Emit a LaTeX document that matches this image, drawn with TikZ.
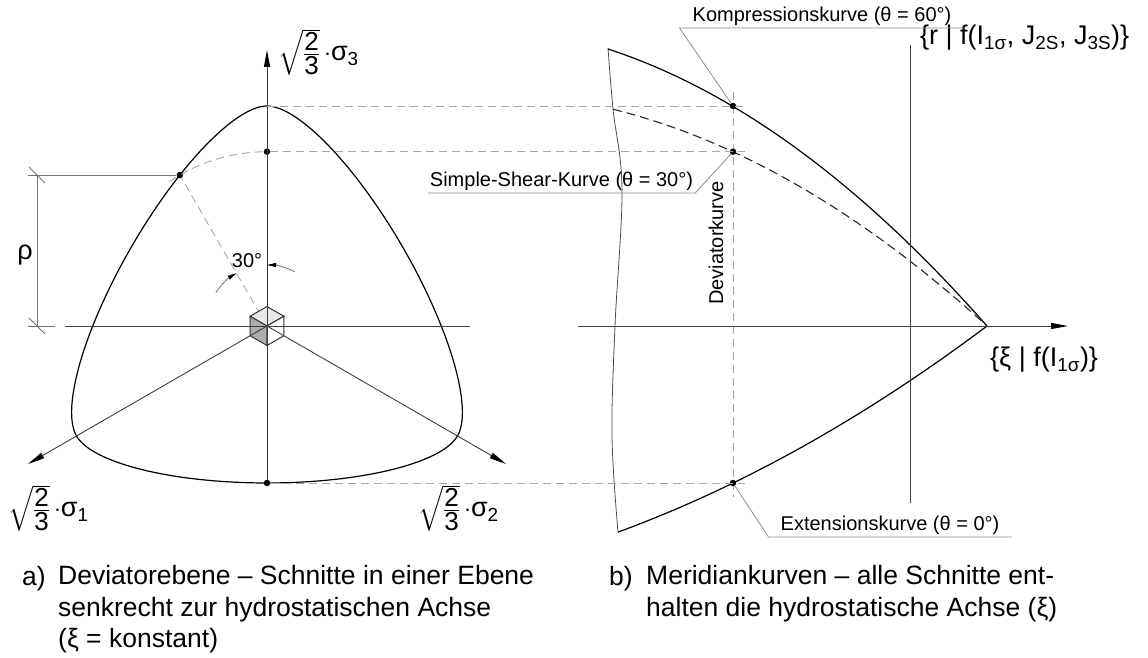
\documentclass[tikz,border=0pt]{standalone}
\usepackage{amsmath}
\usepackage{fontspec}
\setmainfont{Liberation Sans}
\usetikzlibrary{arrows.meta}

\newcommand{\rootfrac}{{\fontsize{23}{27}\selectfont
  $\sqrt{\frac{\mbox{\fontsize{26}{30}\selectfont 2}}{\mbox{\fontsize{26}{30}\selectfont 3}}}\,\cdot$}}

\tikzset{
  axis/.style={draw=black!75,line width=0.9pt},
  arrowaxis/.style={axis,-{Triangle[length=17pt,width=6pt,color=black]}},
  curve/.style={draw=black,line width=1.2pt},
  meridss/.style={draw=black!85,line width=1.1pt,dash pattern=on 9pt off 5pt},
  helper/.style={draw=black!35,line width=0.9pt,dash pattern=on 8pt off 5pt},
  leader/.style={draw=black!45,line width=0.8pt},
  dimline/.style={draw=black!55,line width=0.8pt},
  thinline/.style={draw=black!70,line width=0.8pt},
  cubeline/.style={draw=black!80,line width=1pt},
  dot/.style={circle,fill=black,inner sep=0pt,minimum size=6.5pt},
  lbl/.style={font=\fontsize{20}{24}\selectfont,inner sep=2pt},
  axlbl/.style={font=\fontsize{27}{32}\selectfont,inner sep=0pt},
  caption/.style={font=\fontsize{26.5}{31.5}\selectfont,inner sep=0pt,align=left},
}

\begin{document}
\begin{tikzpicture}[x=1pt,y=1pt,
  declare function={lode(\p)=acos(sin(3*\p))/3;
    wwr(\t)=(0.9816*cos(\t)+0.4272*sqrt(1.9632*cos(\t)*cos(\t)-0.3083))
            /(1.9632*cos(\t)*cos(\t)+0.1825);}]
  \useasboundingbox (0,0) rectangle (1148,657);
  \coordinate (dashend) at (745,0);
  % ---------- left panel: deviatoric plane
  \begin{scope}[shift={(267,331)}]
    \coordinate (O) at (0,0);
    \coordinate (s3) at (90:276);
    \coordinate (s1) at (210:276);
    \coordinate (s2) at (330:276);
    \coordinate (hl) at (-202,0);
    \coordinate (hr) at (203,0);
    \coordinate (ctop) at (0,220);
    \node[dot] (P) at (120:174.3) {};
    \node[dot] (lss) at (0,174.3) {};
    \node[dot] (lbot) at (0,-157) {};
    \draw[helper] (O) -- (P);
    \draw[helper] (124:174.3) arc[start angle=124,end angle=90,radius=174.3];
    \draw[curve] plot[domain=0:360,samples=241,smooth] (\x:{220*wwr(lode(\x))});
    % small cube
    \filldraw[fill=black!9,cubeline] (O) -- (150:19.5) -- (90:19.5) -- (30:19.5) -- cycle;
    \filldraw[fill=black!32,cubeline] (O) -- (150:19.5) -- (210:19.5) -- (270:19.5) -- cycle;
    \filldraw[fill=white,cubeline] (O) -- (30:19.5) -- (-30:19.5) -- (270:19.5) -- cycle;
    \draw[axis] (hl) -- (hr);
    \draw[arrowaxis] (lbot) -- (s3);
    \draw[arrowaxis] (O) -- (s1);
    \draw[arrowaxis] (O) -- (s2);
    % 30 degree mark
    \draw[dimline,-{Triangle[length=9pt,width=4pt,color=black]}] (147:61) arc[start angle=147,end angle=120,radius=61];
    \draw[dimline,-{Triangle[length=9pt,width=4pt,color=black]}] (63:61) arc[start angle=63,end angle=90,radius=61];
    \node[lbl] (ang) at (-20,65) {30°};
    % rho
    \coordinate (rhoLo) at (-230,0);
    \coordinate (rhoHi) at (P -| rhoLo);
    \draw[dimline] (P) -- (-239,0 |- P);
    \draw[dimline] (-239,0) -- (-212,0);
    \draw[dimline] (rhoLo) -- (rhoHi);
    \draw[dimline] (rhoHi) ++(-8,8) -- ++(16,-16);
    \draw[dimline] (rhoLo) ++(-8,8) -- ++(16,-16);
    \node[axlbl] (rho) at (-242,71) {ρ};
    \node[axlbl,anchor=west] (s3lbl) at (11,274) {\rootfrac σ\textsubscript{3}};
    \node[axlbl,anchor=west] (s1lbl) at (-259,-182) {\rootfrac σ\textsubscript{1}};
    \node[axlbl,anchor=west] (s2lbl) at (151,-182) {\rootfrac σ\textsubscript{2}};
  \end{scope}
  % ---------- right panel: meridians
  \begin{scope}[shift={(987,331)}]
    \coordinate (A) at (0,0);
    \coordinate (xiStart) at (-409,0);
    \coordinate (xiEnd) at (81,0);
    \coordinate (rBot) at (-77,-177);
    \coordinate (rTop) at (-77,281);
    \coordinate (devTop) at (-254,234);
    \coordinate (devBot) at (-254,-171);
    \draw[helper] (devTop) -- (devBot);
    \draw[thinline] plot[smooth,tension=0.6] coordinates
      {(-379,278) (-374,217) (-365,136) (-372,0) (-375,-110) (-369,-206)};
    \foreach \a/\b/\d/\st in {1.1356/0.001061/379/curve,0.9106/0.000883/374/meridss,-0.75/-0.000519/369/curve}
      \draw[\st] plot[domain=\d:0,samples=50] ({-\x},{\a*\x-\b*\x*\x}) -- (A);
    \draw[axis] (rBot) -- (rTop);
    \draw[arrowaxis] (xiStart) -- (xiEnd);
    \node[dot] (rc) at (-254,220) {};
    \node[dot] (rs) at (-254,174.3) {};
    \node[dot] (re) at (-254,-157) {};
    \node[lbl,rotate=90] (devlbl) at (-271,83) {Deviatorkurve};
    \node[axlbl,anchor=west] (rlbl) at (-67,288) {\{r | f(I\textsubscript{1σ}, J\textsubscript{2S}, J\textsubscript{3S})\}};
    \node[axlbl,anchor=west] (xilbl) at (3,-34) {\{ξ | f(I\textsubscript{1σ})\}};
    \node[lbl,anchor=south,inner xsep=13pt] (komp) at (-165,298) {Kompressionskurve (θ = 60°)};
    \node[lbl,anchor=south,inner xsep=2pt] (shear) at (-425.5,133) {Simple-Shear-Kurve (θ = 30°)};
    \node[lbl,anchor=south,inner xsep=12pt] (ext) at (-97,-211) {Extensionskurve (θ = 0°)};
    \draw[leader] (komp.south east) -- (komp.south west) -- (rc);
    \draw[leader] (shear.south west) -- (shear.south east) -- (rs);
    \draw[leader] (ext.south east) -- (ext.south west) -- (re);
  \end{scope}
  % ---------- guide lines between the panels
  \foreach \p in {ctop,lss,lbot}
    \draw[helper] (\p) -- (\p -| dashend);
  % ---------- captions
  \node[caption,anchor=base west] (capa) at (22,72) {a)};
  \node[caption,anchor=north west] (capatext) at (58,91.5)
    {Deviatorebene – Schnitte in einer Ebene\\senkrecht zur hydrostatischen Achse\\(ξ = konstant)};
  \node[caption,anchor=base west] (capb) at (609,72) {b)};
  \node[caption,anchor=north west] (capbtext) at (646,91.5)
    {Meridiankurven – alle Schnitte ent-\\halten die hydrostatische Achse (ξ)};
\end{tikzpicture}
\end{document}
